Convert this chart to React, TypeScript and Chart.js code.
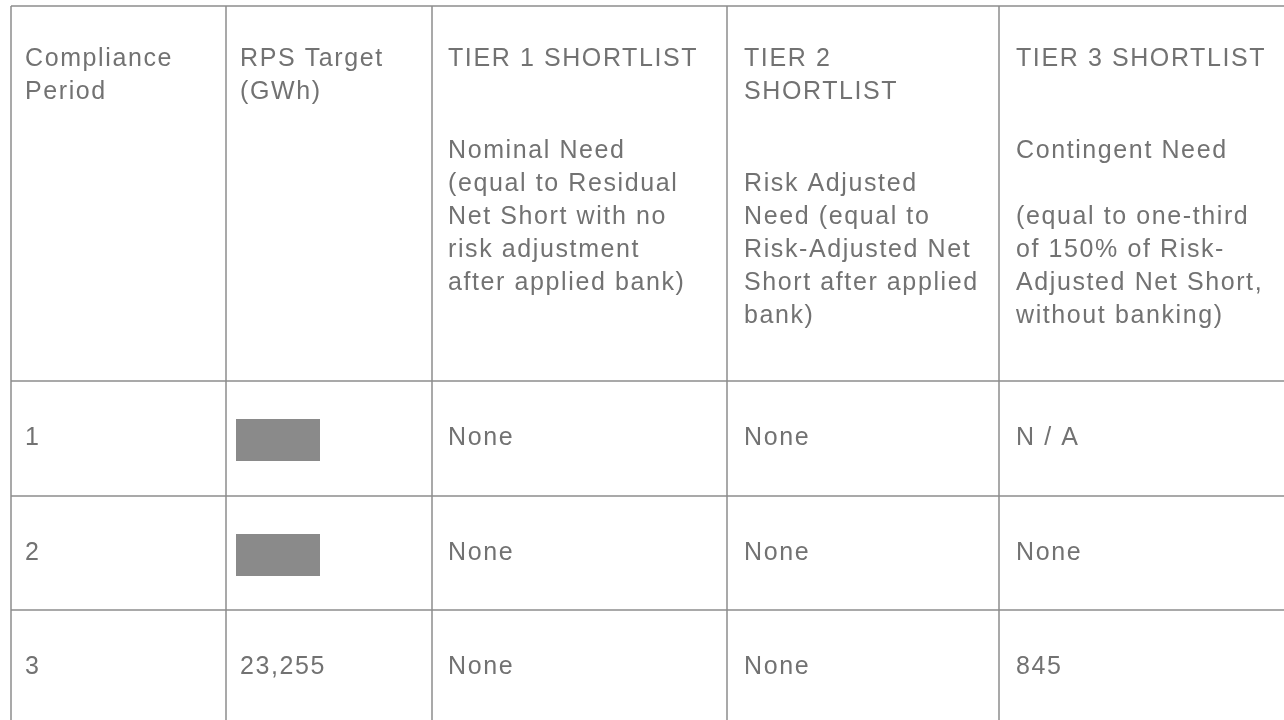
import React, { useEffect, useRef } from "react";
import { Chart, registerables } from "chart.js";

Chart.register(...registerables);

// ---- DATA ----
const headerCol1: string[] = ["Compliance", "Period"];
const headerCol2: string[] = ["RPS Target", "(GWh)"];
const headerCol3: string[] = [
  "TIER 1 SHORTLIST",
  "",
  "Nominal Need",
  "(equal to Residual",
  "Net Short with no",
  "risk adjustment",
  "after applied bank)",
];
const headerCol4: string[] = [
  "TIER 2",
  "SHORTLIST",
  "",
  "Risk Adjusted",
  "Need (equal to",
  "Risk-Adjusted Net",
  "Short after applied",
  "bank)",
];
const headerCol5: string[] = [
  "TIER 3 SHORTLIST",
  "",
  "Contingent Need",
  "",
  "(equal to one-third",
  "of 150% of Risk-",
  "Adjusted Net Short,",
  "without banking)",
];

const periods: string[] = ["1", "2", "3"];
const rpsTarget: (string | null)[] = [null, null, "23,255"]; // null = redacted
const tier1: string[] = ["None", "None", "None"];
const tier2: string[] = ["None", "None", "None"];
const tier3: string[] = ["N / A", "None", "845"];

// ---- LAYOUT (table units on the chart's scales) ----
const colEdges = [11, 226, 432, 727, 999, 1292];
const rowEdges = [6, 381, 496, 610, 726];
const headerBaselines = [66, 99, 158, 191, 224, 257, 290, 323];
const bodyBaselineOffset = 64;
const cellPadX = [14, 14, 16, 17, 17];
const redactBox = { dx0: 10, dx1: 94, dy0: 38, dy1: 80 };

const TEXT_COLOR = "#727272";
const LINE_COLOR = "#8c8c8c";
const FONT = '25px "Liberation Sans", Arial, sans-serif';

const tablePlugin = {
  id: "tablePlugin",
  afterDraw(chart: any) {
    const ctx: CanvasRenderingContext2D = chart.ctx;
    const xs = chart.scales.x;
    const ys = chart.scales.y;
    const px = (v: number) => xs.getPixelForValue(v);
    const py = (v: number) => ys.getPixelForValue(v);

    ctx.save();
    ctx.fillStyle = "#ffffff";
    ctx.fillRect(0, 0, chart.width, chart.height);

    // grid lines
    ctx.strokeStyle = LINE_COLOR;
    ctx.lineWidth = 1.5;
    const top = py(rowEdges[0]);
    const bottom = py(rowEdges[rowEdges.length - 1]);
    const left = px(colEdges[0]);
    const right = px(colEdges[colEdges.length - 1]);
    colEdges.forEach((c) => {
      const x = px(c);
      ctx.beginPath();
      ctx.moveTo(x, top);
      ctx.lineTo(x, bottom);
      ctx.stroke();
    });
    rowEdges.forEach((r) => {
      const y = py(r);
      ctx.beginPath();
      ctx.moveTo(left, y);
      ctx.lineTo(right, y);
      ctx.stroke();
    });

    // text
    ctx.fillStyle = TEXT_COLOR;
    ctx.font = FONT;
    (ctx as any).letterSpacing = "1.6px";
    ctx.textBaseline = "alphabetic";
    ctx.textAlign = "left";

    const headers = [headerCol1, headerCol2, headerCol3, headerCol4, headerCol5];
    headers.forEach((lines, ci) => {
      lines.forEach((t, li) => {
        if (!t) return;
        ctx.fillText(t, px(colEdges[ci] + cellPadX[ci]), py(headerBaselines[li]));
      });
    });

    const columns: (string | null)[][] = [periods, rpsTarget, tier1, tier2, tier3];
    columns.forEach((col, ci) => {
      col.forEach((val, ri) => {
        const rTop = rowEdges[ri + 1];
        if (val === null) {
          ctx.fillStyle = "#8a8a8a";
          const x0 = px(colEdges[ci] + redactBox.dx0);
          const x1 = px(colEdges[ci] + redactBox.dx1);
          const y0 = py(rTop + redactBox.dy0);
          const y1 = py(rTop + redactBox.dy1);
          ctx.fillRect(x0, y0, x1 - x0, y1 - y0);
          ctx.fillStyle = TEXT_COLOR;
          return;
        }
        ctx.fillText(val, px(colEdges[ci] + cellPadX[ci]), py(rTop + bodyBaselineOffset));
      });
    });
    ctx.restore();
  },
};

export default function App() {
  const canvasRef = useRef<HTMLCanvasElement | null>(null);

  useEffect(() => {
    if (!canvasRef.current) return;
    const chart = new Chart(canvasRef.current, {
      type: "scatter",
      data: { datasets: [{ data: [] }] },
      options: {
        animation: false,
        responsive: false,
        devicePixelRatio: 1,
        layout: { padding: 0 },
        plugins: { legend: { display: false }, tooltip: { enabled: false } },
        scales: {
          x: { type: "linear", min: 0, max: 1284, display: false },
          y: { type: "linear", min: 0, max: 720, reverse: true, display: false },
        },
      },
      plugins: [tablePlugin],
    });
    return () => chart.destroy();
  }, []);

  return (
    <div style={{ position: "absolute", left: 0, top: 0, width: 1284, height: 720, background: "#fff" }}>
      <canvas ref={canvasRef} width={1284} height={720} style={{ display: "block" }} />
    </div>
  );
}
